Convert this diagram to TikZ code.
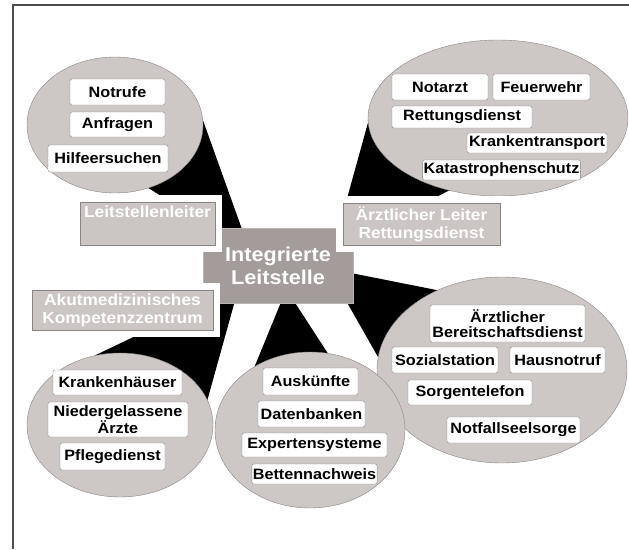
\documentclass[tikz,border=0pt]{standalone}
\usepackage{fontspec}
\setmainfont[FakeStretch=1.08]{Liberation Sans}
\usetikzlibrary{shapes.geometric,calc}
\pgfdeclarelayer{bg}
\pgfsetlayers{bg,main}
\definecolor{ovalgray}{HTML}{CDC7C5}
\definecolor{boxgray}{HTML}{A39C9B}
\definecolor{linegray}{HTML}{8A8483}
\definecolor{labelgray}{HTML}{CBC5C3}

\begin{document}
\begin{tikzpicture}[x=1pt,y=-1pt]
\tikzset{oval/.style={ellipse, draw=linegray, fill=ovalgray, inner sep=0pt}}
\tikzset{item/.style={draw=linegray, fill=white, rounded corners=2pt, align=center, inner sep=1pt, font=\bfseries\fontsize{15}{15}\selectfont}}
\tikzset{tag/.style={draw=linegray, fill=labelgray, text=white, align=center, inner sep=1pt, font=\bfseries\fontsize{16}{18}\selectfont, preaction={draw=white, line width=14pt}}}
\useasboundingbox (0,0) rectangle (629,549);
\draw[line width=1.2pt, black!70] (13,549) -- (13,5) -- (629,5);
% ovals
\node[oval, minimum width=176, minimum height=136] (tl) at (115,125) {};
\node[oval, minimum width=260, minimum height=156] (tr) at (498,118) {};
\node[oval, minimum width=250, minimum height=186] (br) at (502,370) {};
\node[oval, minimum width=186, minimum height=144] (bl) at (120,425) {};
\node[oval, minimum width=190, minimum height=156] (bm) at (310,430) {};
% centre
\node[fill=boxgray, draw=linegray!60, text=white, align=center, minimum width=150, minimum height=75,
  font=\bfseries\fontsize{20}{23}\selectfont] (c) at (278,265.5) {Integrierte\\Leitstelle};
% wedges
\begin{pgfonlayer}{bg}
\fill (tl.center) -- (tl.3) -- ([shift={(43,12)}]c.north west) -- ([shift={(27,12)}]c.north west) -- (tl.-62) -- cycle;
\fill (tr.center) -- (tr.182) -- ([shift={(130,22)}]c.north west) -- ([shift={(147,14)}]c.north west) -- (tr.236) -- cycle;
\fill (br.center) -- (br.129) -- ([shift={(142,44)}]c.north west) -- ([shift={(137,62)}]c.north west) -- (br.174) -- cycle;
\fill (bm.center) -- (bm.131) -- ([shift={(80,70)}]c.north west) -- ([shift={(89,70)}]c.north west) -- (bm.77) -- cycle;
\fill (bl.center) -- (bl.110) -- ([shift={(19,67)}]c.north west) -- ([shift={(33,70)}]c.north west) -- (bl.16) -- cycle;
\end{pgfonlayer}
% tags
\node[tag, minimum width=135, minimum height=43] (lsl) at (147.5,223.5) {Leitstellenleiter\\\strut};
\node[tag, minimum width=157, minimum height=42] (alr) at (421.5,224) {Ärztlicher Leiter\\Rettungsdienst};
\node[tag, minimum width=181, minimum height=40] (akz) at (122.5,310) {Akutmedizinisches\\Kompetenzzentrum};
% items
\node[item, minimum width=95, minimum height=26] (notruf) at (117.5,92) {Notrufe};
\node[item, minimum width=95, minimum height=25] (anfr) at (117.5,124.5) {Anfragen};
\node[item, minimum width=120, minimum height=27] (hilfe) at (108,158.5) {Hilfeersuchen};
\node[item, minimum width=96, minimum height=26] (notarzt) at (440,87) {Notarzt};
\node[item, minimum width=97, minimum height=26] (fw) at (541.5,87) {Feuerwehr};
\node[item, minimum width=140, minimum height=22] (rd) at (462,117) {Rettungsdienst};
\node[item, minimum width=140, minimum height=20] (kt) at (537,143) {Krankentransport};
\node[item, minimum width=153, minimum height=20] (kat) at (501.5,170) {Katastrophenschutz};
\node[item, minimum width=129, minimum height=25] (kh) at (117.5,382.5) {Krankenhäuser};
\node[item, minimum width=140, minimum height=35] (arzt) at (118,419.5) {Niedergelassene\\Ärzte};
\node[item, minimum width=105, minimum height=27] (pfl) at (112.5,456.5) {Pflegedienst};
\node[item, minimum width=95, minimum height=27] (ausk) at (310.5,381.5) {Auskünfte};
\node[item, minimum width=107, minimum height=26] (db) at (311.5,414) {Datenbanken};
\node[item, minimum width=145, minimum height=24] (exp) at (314.5,445) {Expertensysteme};
\node[item, minimum width=125, minimum height=20] (bett) at (314.5,474) {Bettennachweis};
\node[item, minimum width=155, minimum height=37] (bd) at (507.5,323.5) {Ärztlicher\\Bereitschaftsdienst};
\node[item, minimum width=106, minimum height=26] (soz) at (445,360) {Sozialstation};
\node[item, minimum width=95, minimum height=26] (haus) at (557.5,360) {Hausnotruf};
\node[item, minimum width=124, minimum height=25] (sorg) at (470,392.5) {Sorgentelefon};
\node[item, minimum width=133, minimum height=26] (nfs) at (513.5,430) {Notfallseelsorge};
\end{tikzpicture}
\end{document}
